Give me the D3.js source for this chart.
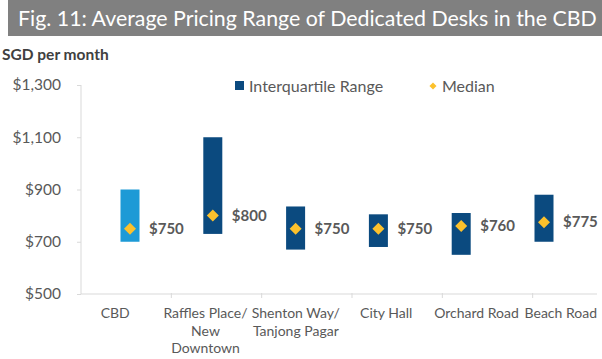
<!DOCTYPE html>
<html>
<head>
<meta charset="utf-8">
<script src="https://cdn.jsdelivr.net/npm/d3@7"></script>
<style>
  body { margin: 0; background: #fff; }
  text { font-family: Lato, 'Open Sans', sans-serif; }
</style>
</head>
<body>
<div id="container"></div>
<script>
const w = 602,
  h = 359;

const categories = [
  'CBD',
  'Raffles Place/\nNew\nDowntown',
  'Shenton Way/\nTanjong Pagar',
  'City Hall',
  'Orchard Road',
  'Beach Road',
];
const lowerQuartile = [700, 730, 670, 680, 650, 700];
const upperQuartile = [900, 1100, 835, 805, 810, 880];
const medians = [750, 800, 750, 750, 760, 775];
const yTicks = [500, 700, 900, 1100, 1300];

const grey = '#595959',
  axisGrey = '#d9d9d9',
  navy = '#0b4a7f',
  lightBlue = '#1d9ad6',
  gold = '#fcc12c';

const svg = d3
  .select('#container')
  .append('svg')
  .attr('width', w)
  .attr('height', h);

// title banner
svg
  .append('rect')
  .attr('x', 8)
  .attr('y', 0)
  .attr('width', w - 8)
  .attr('height', 36)
  .attr('fill', '#808080');

const title = svg
  .append('text')
  .text('Fig. 11: Average Pricing Range of Dedicated Desks in the CBD')
  .attr('x', 18)
  .attr('y', 26)
  .attr('fill', '#fff')
  .style('font-size', '20px');
title.style('font-size', (20 * 579) / title.node().getComputedTextLength() + 'px');

svg
  .append('text')
  .text('SGD per month')
  .attr('x', 2)
  .attr('y', 60)
  .attr('fill', '#404040')
  .style('font-weight', 'bold')
  .style('font-size', '15.5px');

const yScale = d3.scaleLinear().domain([500, 1300]).range([294, 85]);

// axis bands (the chart is cut off at the right edge)
const xScale = d3.scaleBand().domain(categories).range([81, 623]);
// bar positions
const xBar = d3.scalePoint().domain(categories).range([130, 544]);

// y axis
const yAxis = d3
  .axisLeft(yScale)
  .tickValues(yTicks)
  .tickSize(4)
  .tickPadding(16)
  .tickFormat((d) => '$' + d3.format(',')(d));

const gy = svg.append('g').attr('transform', 'translate(81,0)').call(yAxis);
gy.select('.domain').attr('stroke', axisGrey).attr('d', 'M0,85V294');
gy.selectAll('.tick line').attr('stroke', axisGrey);
gy.selectAll('.tick text')
  .attr('fill', grey)
  .style('font-size', '15.5px')
  .style('font-family', "Lato, 'Open Sans', sans-serif");

// x axis
svg
  .append('line')
  .attr('x1', 81)
  .attr('x2', 597)
  .attr('y1', yScale(500))
  .attr('y2', yScale(500))
  .attr('stroke', axisGrey);

svg
  .selectAll('.xtick')
  .data(categories.slice(1))
  .enter()
  .append('line')
  .attr('class', 'xtick')
  .attr('x1', (d) => xScale(d))
  .attr('x2', (d) => xScale(d))
  .attr('y1', yScale(500) - 1)
  .attr('y2', yScale(500) + 4)
  .attr('stroke', axisGrey);

const xLabels = svg
  .selectAll('.xlabel')
  .data(categories)
  .enter()
  .append('text')
  .attr('class', 'xlabel')
  .attr('text-anchor', 'middle')
  .attr('fill', grey)
  .style('font-size', '14px')
  .attr('y', 318);

xLabels
  .selectAll('tspan')
  .data((d) => d.split('\n').map((line) => ({ line, c: d })))
  .enter()
  .append('tspan')
  .attr('dy', (d, i) => (i === 0 ? 0 : 17.5))
  .text((d) => d.line)
  .attr('x', function (d) {
    const half = this.getComputedTextLength() / 2;
    return Math.min(xScale(d.c) + xScale.bandwidth() / 2 - 11, 597 - half);
  });

// interquartile bars
svg
  .selectAll('.bar')
  .data(categories)
  .enter()
  .append('rect')
  .attr('class', 'bar')
  .attr('x', (d) => xBar(d) - 9.5)
  .attr('width', 19)
  .attr('y', (d, i) => yScale(upperQuartile[i]))
  .attr('height', (d, i) => yScale(lowerQuartile[i]) - yScale(upperQuartile[i]))
  .attr('fill', (d, i) => (i === 0 ? lightBlue : navy));

// medians
const diamond = d3.symbol().type(d3.symbolSquare);

svg
  .selectAll('.median')
  .data(categories)
  .enter()
  .append('path')
  .attr('class', 'median')
  .attr('d', diamond.size(72)())
  .attr(
    'transform',
    (d, i) => 'translate(' + xBar(d) + ',' + yScale(medians[i]) + ') rotate(45)'
  )
  .attr('fill', gold);

svg
  .selectAll('.mlabel')
  .data(categories)
  .enter()
  .append('text')
  .attr('class', 'mlabel')
  .attr('x', (d) => xBar(d) + 19)
  .attr('y', (d, i) => yScale(medians[i]))
  .attr('dy', '0.35em')
  .attr('fill', grey)
  .style('font-weight', 'bold')
  .style('font-size', '15px')
  .text((d, i) => '$' + medians[i]);

// legend
const legend = svg.append('g').attr('id', 'legend');
legend
  .append('rect')
  .attr('x', 235)
  .attr('y', 81)
  .attr('width', 9)
  .attr('height', 9)
  .attr('fill', navy);
legend
  .append('text')
  .attr('x', 249)
  .attr('y', 86)
  .attr('dy', '0.35em')
  .attr('fill', grey)
  .style('font-size', '16px')
  .text('Interquartile Range');
legend
  .append('path')
  .attr('d', d3.symbol().type(d3.symbolSquare).size(25)())
  .attr('transform', 'translate(433,86) rotate(45)')
  .attr('fill', gold);
legend
  .append('text')
  .attr('x', 442)
  .attr('y', 86)
  .attr('dy', '0.35em')
  .attr('fill', grey)
  .style('font-size', '16px')
  .text('Median');
</script>
</body>
</html>
